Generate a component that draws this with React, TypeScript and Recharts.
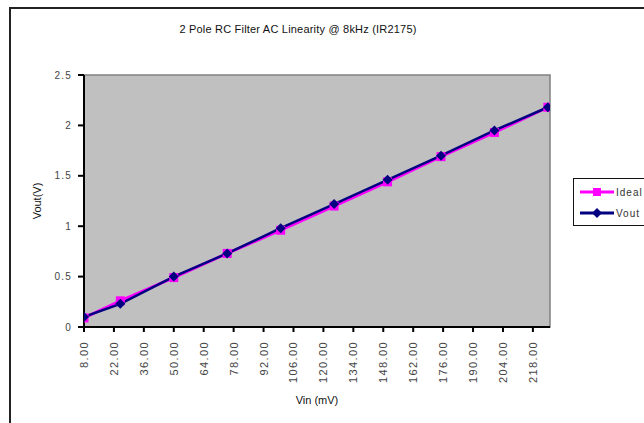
import React from 'react';
import { LineChart, Line, XAxis, YAxis, ReferenceArea } from 'recharts';

// Vin (mV) sample points and measured / ideal outputs (V)
const vin = [8, 25, 50, 75, 100, 125, 150, 175, 200, 225];
const ideal = [0.09, 0.26, 0.49, 0.73, 0.96, 1.2, 1.44, 1.69, 1.93, 2.18];
const vout = [0.1, 0.23, 0.5, 0.73, 0.98, 1.22, 1.46, 1.7, 1.95, 2.18];

const xTicks = [8, 22, 36, 50, 64, 78, 92, 106, 120, 134, 148, 162, 176, 190, 204, 218];
const yTicks = [0, 0.5, 1, 1.5, 2, 2.5];

const data = vin.map((v, i) => ({ vin: v, ideal: ideal[i], vout: vout[i] }));

const FONT = '"Liberation Sans", Arial, sans-serif';

const XTick = (props: any) => {
  const { x, y, payload } = props;
  return (
    <text
      x={0}
      y={0}
      transform={`translate(${x + 4},${y + 7}) rotate(-90)`}
      textAnchor="end"
      fontSize={11}
      letterSpacing={1.4}
      fontFamily={FONT}
      fill="#444"
    >
      {Number(payload.value).toFixed(2)}
    </text>
  );
};

const LegendBox = () => (
  <div
    style={{
      position: 'absolute',
      left: 573,
      top: 178,
      border: '1.5px solid #111',
      background: '#fff',
      width: 90,
      height: 46,
      fontFamily: FONT,
      fontSize: 10,
      letterSpacing: 1,
      color: '#333',
    }}
  >
    <div style={{ display: 'flex', alignItems: 'center', height: 22, marginTop: 2 }}>
      <svg width={34} height={12} style={{ marginLeft: 6 }}>
        <line x1={0} y1={6} x2={34} y2={6} stroke="#ff00ff" strokeWidth={3} />
        <rect x={13} y={2} width={8} height={8} fill="#ff00ff" />
      </svg>
      <span style={{ marginLeft: 2 }}>Ideal</span>
    </div>
    <div style={{ display: 'flex', alignItems: 'center', height: 20 }}>
      <svg width={34} height={12} style={{ marginLeft: 6 }}>
        <line x1={0} y1={6} x2={34} y2={6} stroke="#000080" strokeWidth={3} />
        <polygon points="17,1 22,6 17,11 12,6" fill="#000080" />
      </svg>
      <span style={{ marginLeft: 2 }}>Vout</span>
    </div>
  </div>
);

const Diamond = (props: any) => {
  const { cx, cy } = props;
  if (cx == null || cy == null) return null;
  return <polygon points={`${cx},${cy - 5} ${cx + 5},${cy} ${cx},${cy + 5} ${cx - 5},${cy}`} fill="#000080" />;
};

const Square = (props: any) => {
  const { cx, cy } = props;
  if (cx == null || cy == null) return null;
  return <rect x={cx - 4.5} y={cy - 4.5} width={9} height={9} fill="#ff00ff" />;
};

export default function App() {
  return (
    <div style={{ position: 'fixed', left: 0, top: 0, width: 644, height: 423, overflow: 'hidden', background: '#fff' }}>
      <div
        style={{
          position: 'absolute',
          left: 9,
          top: 7,
          width: 700,
          height: 500,
          border: '2px solid #222',
        }}
      />
      <div
        style={{
          position: 'absolute',
          left: 0,
          width: 596,
          top: 23,
          textAlign: 'center',
          fontFamily: FONT,
          fontSize: 11,
          letterSpacing: 0.2,
          color: '#111',
        }}
      >
        2 Pole RC Filter AC Linearity @ 8kHz (IR2175)
      </div>
      <div style={{ position: 'absolute', left: 0, top: 0 }}>
        <LineChart
          width={644}
          height={423}
          data={data}
          margin={{ top: 75, left: 44, right: 94, bottom: 46 }}
        >
          <ReferenceArea
            x1={8}
            x2={226}
            y1={0}
            y2={2.5}
            fill="#c0c0c0"
            fillOpacity={1}
            stroke="#808080"
            strokeWidth={1.5}
          />
          <XAxis
            dataKey="vin"
            type="number"
            domain={[8, 226]}
            ticks={xTicks}
            height={50}
            tick={<XTick />}
            tickLine={{ stroke: '#000', strokeWidth: 2 }}
            tickSize={5}
            axisLine={{ stroke: '#000', strokeWidth: 2 }}
            interval={0}
            allowDataOverflow
            label={{ value: 'Vin (mV)', position: 'bottom', offset: 19, fontSize: 11, fontFamily: FONT, fill: '#111' }}
          />
          <YAxis
            type="number"
            domain={[0, 2.5]}
            ticks={yTicks}
            width={40}
            tick={{ fontSize: 10, fontFamily: FONT, fill: '#444', letterSpacing: 1.2 }}
            tickLine={{ stroke: '#000', strokeWidth: 2 }}
            tickSize={6}
            tickMargin={6}
            axisLine={{ stroke: '#000', strokeWidth: 2 }}
            interval={0}
            label={{ value: 'Vout(V)', angle: -90, position: 'left', offset: 7, fontSize: 11, fontFamily: FONT, fill: '#111', textAnchor: 'middle' }}
          />
          <Line
            dataKey="ideal"
            name="Ideal"
            stroke="#ff00ff"
            strokeWidth={3}
            dot={<Square />}
            isAnimationActive={false}
          />
          <Line
            dataKey="vout"
            name="Vout"
            stroke="#000080"
            strokeWidth={2.5}
            dot={<Diamond />}
            isAnimationActive={false}
          />
        </LineChart>
      </div>
      <LegendBox />
    </div>
  );
}
